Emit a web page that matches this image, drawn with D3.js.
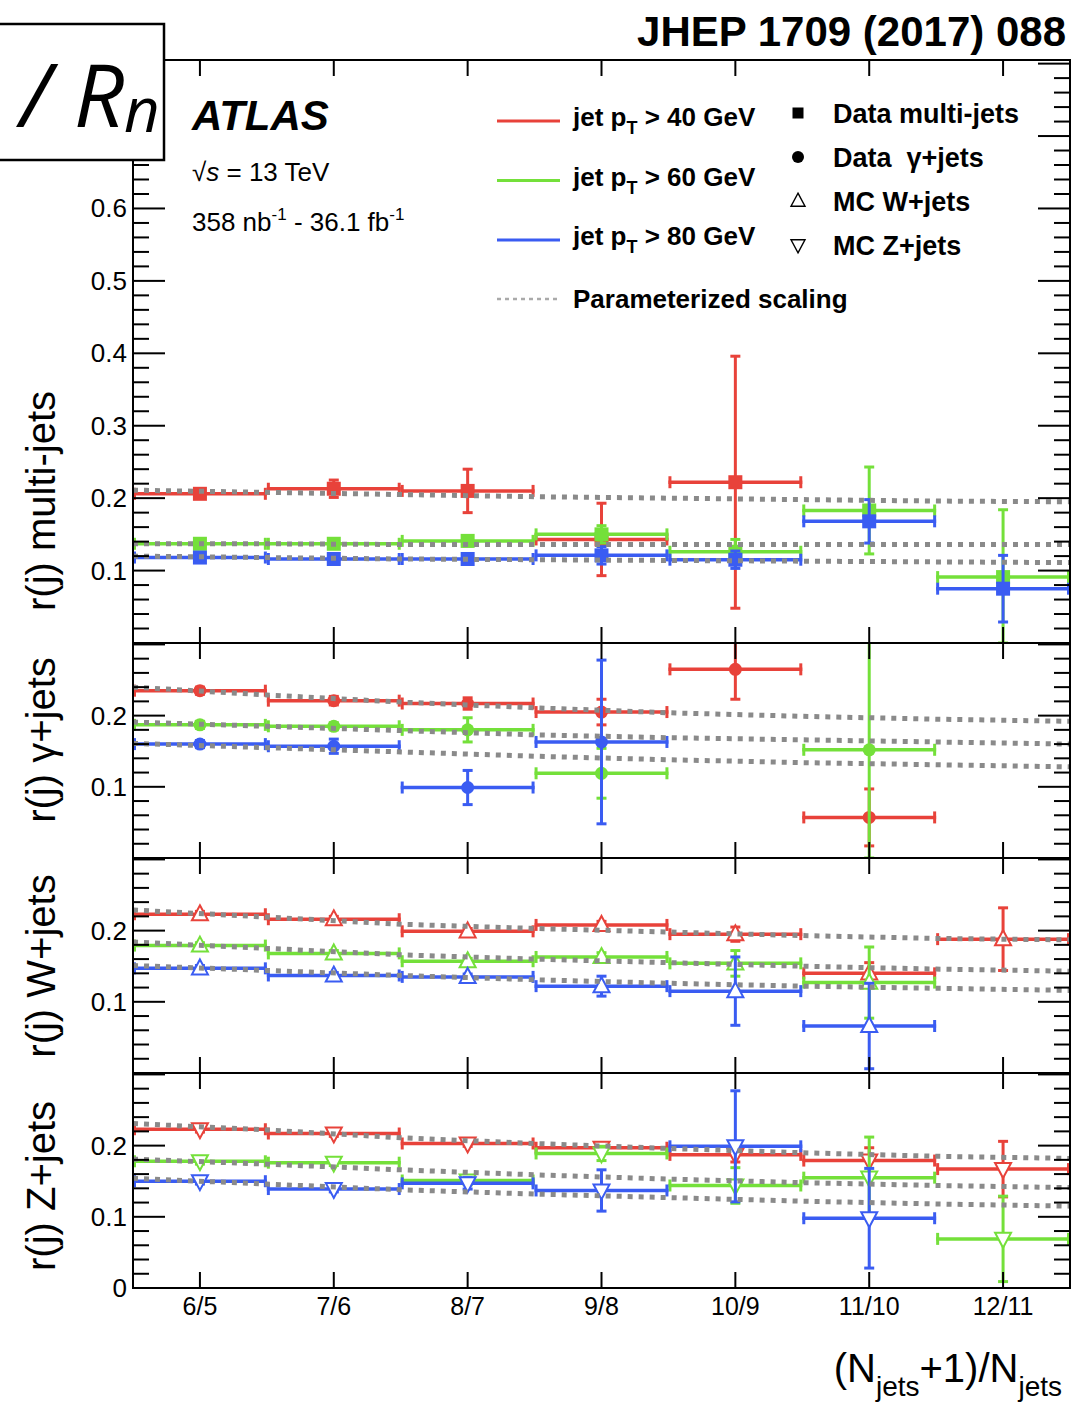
<!DOCTYPE html>
<html><head><meta charset="utf-8">
<script src="https://cdn.jsdelivr.net/npm/d3@7"></script>
<style>body{margin:0;background:#fff}svg{display:block}text{font-family:"Liberation Sans",Arial,Helvetica,sans-serif}</style>
</head><body>
<svg id="c" width="1088" height="1403"></svg>
<script>
// ---------------- data ----------------
const categories = ["6/5","7/6","8/7","9/8","10/9","11/10","12/11"];
const ptCuts = [40, 60, 80];
const markerLabels = ["Data multi-jets", "Data  \u03b3+jets", "MC W+jets", "MC Z+jets"];
const panelTitles = ["r(j) multi-jets", "r(j) \u03b3+jets", "r(j) W+jets", "r(j) Z+jets"];
const scaleEdges = [-0.5, 0.5, 1.5, 2.5, 3.5, 4.5, 5.5, 6.5];

// multi-jets
const mj40 = [0.206, 0.213, 0.210, 0.143, 0.222, null, null];
const mj40Err = [0.005, 0.012, 0.030, 0.050, 0.174, null, null];
const mj60 = [0.137, 0.137, 0.141, 0.150, 0.126, 0.183, 0.091];
const mj60Err = [0.004, 0.004, 0.007, 0.012, 0.017, 0.060, 0.093];
const mj80 = [0.118, 0.116, 0.116, 0.121, 0.115, 0.168, 0.075];
const mj80Err = [0.004, 0.005, 0.006, 0.012, 0.012, 0.030, 0.046];
const mjScale40 = [0.211, 0.208, 0.205, 0.202, 0.200, 0.198, 0.196, 0.195];
const mjScale60 = [0.137, 0.137, 0.136, 0.136, 0.136, 0.136, 0.136, 0.136];
const mjScale80 = [0.120, 0.118, 0.116, 0.115, 0.114, 0.113, 0.112, 0.111];

// gamma+jets
const gj40 = [0.235, 0.221, 0.217, 0.205, 0.265, 0.057, null];
const gj40Err = [0.005, 0.006, 0.008, 0.018, 0.042, 0.040, null];
const gj60 = [0.187, 0.185, 0.180, 0.119, null, 0.152, null];
const gj60Err = [0.005, 0.005, 0.017, 0.035, null, 0.155, null];
const gj80 = [0.160, 0.157, 0.099, 0.163, null, null, null];
const gj80Err = [0.005, 0.010, 0.024, 0.115, null, null, null];
const gjScale40 = [0.240, 0.229, 0.219, 0.211, 0.204, 0.199, 0.195, 0.192];
const gjScale60 = [0.191, 0.185, 0.179, 0.173, 0.169, 0.166, 0.163, 0.160];
const gjScale80 = [0.161, 0.155, 0.149, 0.143, 0.138, 0.134, 0.131, 0.128];

// W+jets
const wj40 = [0.223, 0.216, 0.199, 0.208, 0.195, 0.140, 0.188];
const wj40Err = [0.004, 0.004, 0.004, 0.005, 0.010, 0.015, 0.044];
const wj60 = [0.179, 0.168, 0.157, 0.163, 0.154, 0.127, null];
const wj60Err = [0.004, 0.004, 0.004, 0.006, 0.018, 0.050, null];
const wj80 = [0.147, 0.137, 0.135, 0.122, 0.115, 0.066, null];
const wj80Err = [0.004, 0.004, 0.004, 0.014, 0.048, 0.060, null];
const wjScale40 = [0.229, 0.219, 0.209, 0.203, 0.198, 0.193, 0.189, 0.187];
const wjScale60 = [0.184, 0.175, 0.166, 0.160, 0.155, 0.150, 0.146, 0.143];
const wjScale80 = [0.151, 0.144, 0.137, 0.131, 0.126, 0.122, 0.119, 0.116];

// Z+jets
const zj40 = [0.223, 0.217, 0.203, 0.197, 0.187, 0.179, 0.167];
const zj40Err = [0.004, 0.004, 0.004, 0.006, 0.010, 0.018, 0.039];
const zj60 = [0.178, 0.176, 0.151, 0.189, 0.144, 0.155, 0.069];
const zj60Err = [0.004, 0.004, 0.006, 0.010, 0.025, 0.057, 0.060];
const zj80 = [0.150, 0.139, 0.147, 0.137, 0.199, 0.098, null];
const zj80Err = [0.004, 0.004, 0.008, 0.029, 0.078, 0.070, null];
const zjScale40 = [0.231, 0.222, 0.211, 0.203, 0.196, 0.190, 0.185, 0.182];
const zjScale60 = [0.181, 0.174, 0.166, 0.159, 0.153, 0.148, 0.144, 0.141];
const zjScale80 = [0.154, 0.146, 0.138, 0.132, 0.127, 0.122, 0.118, 0.115];

const yLabels1 = [0.1, 0.2, 0.3, 0.4, 0.5, 0.6];
const yLabels2 = [0.1, 0.2];
const yLabels3 = [0.1, 0.2];
const yLabels4 = [0, 0.1, 0.2];

// ---------------- drawing ----------------
const colors = ["#e8423a", "#74e03a", "#3a5cf2"];
const svg = d3.select("#c");
const X0 = 133, X1 = 1070;
const x = d3.scaleLinear().domain([-0.5, 6.5]).range([X0, X1]);

const panels = [
  {top: 60, bottom: 643, ymax: 0.805, marker: "square", labels: yLabels1, titleY: 501,
   vals: [mj40, mj60, mj80], errs: [mj40Err, mj60Err, mj80Err], scales: [mjScale40, mjScale60, mjScale80]},
  {top: 643, bottom: 858, ymax: 0.302, marker: "circle", labels: yLabels2, titleY: 740,
   vals: [gj40, gj60, gj80], errs: [gj40Err, gj60Err, gj80Err], scales: [gjScale40, gjScale60, gjScale80]},
  {top: 858, bottom: 1073, ymax: 0.302, marker: "tri-up", labels: yLabels3, titleY: 966,
   vals: [wj40, wj60, wj80], errs: [wj40Err, wj60Err, wj80Err], scales: [wjScale40, wjScale60, wjScale80]},
  {top: 1073, bottom: 1288, ymax: 0.302, marker: "tri-down", labels: yLabels4, titleY: 1186,
   vals: [zj40, zj60, zj80], errs: [zj40Err, zj60Err, zj80Err], scales: [zjScale40, zjScale60, zjScale80]}
];

function markerPath(type, s) {
  const h = s * 0.9;
  if (type === "tri-up") return `M0,${-h*0.62}L${s/2},${h*0.42}L${-s/2},${h*0.42}Z`;
  if (type === "tri-down") return `M0,${h*0.62}L${s/2},${-h*0.42}L${-s/2},${-h*0.42}Z`;
  return "";
}
function drawMarker(g, type, cx, cy, color, size, sw) {
  if (type === "square") {
    g.append("rect").attr("x", cx - size/2).attr("y", cy - size/2).attr("width", size).attr("height", size).attr("fill", color);
  } else if (type === "circle") {
    g.append("circle").attr("cx", cx).attr("cy", cy).attr("r", size/2).attr("fill", color);
  } else {
    g.append("path").attr("d", markerPath(type, size)).attr("transform", `translate(${cx},${cy})`)
      .attr("fill", "#fff").attr("stroke", color).attr("stroke-width", sw);
  }
}

panels.forEach((p, pi) => {
  const y = d3.scaleLinear().domain([0, p.ymax]).range([p.bottom, p.top]);
  const clipId = "clip" + pi;
  svg.append("clipPath").attr("id", clipId).append("rect")
    .attr("x", X0).attr("y", p.top).attr("width", X1 - X0).attr("height", p.bottom - p.top);
  const g = svg.append("g").attr("clip-path", `url(#${clipId})`);

  // data
  p.vals.forEach((vals, si) => {
    const col = colors[si];
    const errs = p.errs[si];
    const gs = g.append("g");
    vals.forEach((v, i) => {
      if (v === null) return;
      const e = errs[i];
      const xl = x(i - 0.5), xr = x(i + 0.5), xc = x(i), yc = y(v);
      gs.append("line").attr("x1", xl).attr("x2", xr).attr("y1", yc).attr("y2", yc)
        .attr("stroke", col).attr("stroke-width", 3.5);
      [xl + 1.5, xr - 1.5].forEach(xx => gs.append("line").attr("x1", xx).attr("x2", xx)
        .attr("y1", yc - 6).attr("y2", yc + 6).attr("stroke", col).attr("stroke-width", 3));
      const yt = y(v + e), yb = y(Math.max(0, v - e));
      gs.append("line").attr("x1", xc).attr("x2", xc).attr("y1", yt).attr("y2", yb)
        .attr("stroke", col).attr("stroke-width", 3);
      [yt, yb].forEach(yy => gs.append("line").attr("x1", xc - 5).attr("x2", xc + 5)
        .attr("y1", yy).attr("y2", yy).attr("stroke", col).attr("stroke-width", 3));
      drawMarker(gs, p.marker, xc, yc, col, p.marker === "circle" ? 13 : (p.marker === "square" ? 14 : 16), 2);
    });
  });

  // parameterized scaling
  p.scales.forEach(sc => {
    const line = d3.line().x((d, i) => x(scaleEdges[i])).y(d => y(d));
    g.append("path").attr("d", line(sc)).attr("fill", "none")
      .attr("stroke", "#8a8a8a").attr("stroke-width", 5).attr("stroke-dasharray", "5,6");
  });

  // frame
  svg.append("rect").attr("x", X0).attr("y", p.top).attr("width", X1 - X0).attr("height", p.bottom - p.top)
    .attr("fill", "none").attr("stroke", "#000").attr("stroke-width", 2);

  // y ticks
  const majors = d3.range(0, p.ymax + 1e-9, 0.1).map(d => +d.toFixed(2));
  const minors = d3.range(0, p.ymax + 1e-9, 0.02).map(d => +d.toFixed(2)).filter(d => Math.abs(Math.round(d * 10) - d * 10) > 1e-6);
  const tg = svg.append("g").attr("stroke", "#000");
  majors.forEach(v => {
    const yy = y(v);
    if (yy < p.top + 1 || yy > p.bottom - 1) return;
    tg.append("line").attr("x1", X0).attr("x2", X0 + 32).attr("y1", yy).attr("y2", yy).attr("stroke-width", 2);
    tg.append("line").attr("x1", X1).attr("x2", X1 - 32).attr("y1", yy).attr("y2", yy).attr("stroke-width", 2);
  });
  minors.forEach(v => {
    const yy = y(v);
    if (yy < p.top + 1 || yy > p.bottom - 1) return;
    tg.append("line").attr("x1", X0).attr("x2", X0 + 16).attr("y1", yy).attr("y2", yy).attr("stroke-width", 2);
    tg.append("line").attr("x1", X1).attr("x2", X1 - 16).attr("y1", yy).attr("y2", yy).attr("stroke-width", 2);
  });
  // x ticks
  categories.forEach((c, i) => {
    tg.append("line").attr("x1", x(i)).attr("x2", x(i)).attr("y1", p.top).attr("y2", p.top + 16).attr("stroke-width", 2);
    tg.append("line").attr("x1", x(i)).attr("x2", x(i)).attr("y1", p.bottom).attr("y2", p.bottom - 16).attr("stroke-width", 2);
  });
  // y labels
  p.labels.forEach(v => {
    svg.append("text").attr("x", 127).attr("y", y(v) + 9).attr("text-anchor", "end")
      .attr("font-size", 26).text(v === 0 ? "0" : v.toFixed(1));
  });
  // y title
  svg.append("text").attr("transform", `translate(55,${p.titleY}) rotate(-90)`)
    .attr("text-anchor", "middle").attr("font-size", 40).text(panelTitles[pi]);
});

// x labels
categories.forEach((c, i) => {
  svg.append("text").attr("x", x(i)).attr("y", 1315).attr("text-anchor", "middle").attr("font-size", 25).text(c);
});
// x title
const xt = svg.append("text").attr("x", 1062).attr("y", 1382).attr("text-anchor", "end").attr("font-size", 40);
xt.append("tspan").text("(N");
xt.append("tspan").attr("font-size", 28).attr("dy", 14).text("jets");
xt.append("tspan").attr("dy", -14).text("+1)/N");
xt.append("tspan").attr("font-size", 28).attr("dy", 14).text("jets");

// header
svg.append("text").attr("x", 1066).attr("y", 46).attr("text-anchor", "end")
  .attr("font-size", 42).attr("font-weight", "bold").text("JHEP 1709 (2017) 088");

// ATLAS block
svg.append("text").attr("x", 192).attr("y", 130).attr("font-size", 42).attr("font-weight", "bold")
  .attr("font-style", "italic").text("ATLAS");
const s1 = svg.append("text").attr("x", 192).attr("y", 181).attr("font-size", 26);
s1.append("tspan").text("\u221a");
s1.append("tspan").attr("font-style", "italic").text("s");
s1.append("tspan").text(" = 13 TeV");
const s2 = svg.append("text").attr("x", 192).attr("y", 231).attr("font-size", 26);
s2.append("tspan").text("358 nb");
s2.append("tspan").attr("font-size", 17).attr("dy", -11).text("-1");
s2.append("tspan").attr("dy", 11).text(" - 36.1 fb");
s2.append("tspan").attr("font-size", 17).attr("dy", -11).text("-1");

// legend: pT lines
ptCuts.forEach((pt, i) => {
  const yy = 121 + 59.5 * i;
  svg.append("line").attr("x1", 497).attr("x2", 560).attr("y1", yy).attr("y2", yy)
    .attr("stroke", colors[i]).attr("stroke-width", 3);
  const t = svg.append("text").attr("x", 573).attr("y", yy + 5).attr("font-size", 26).attr("font-weight", "bold");
  t.append("tspan").text("jet p");
  t.append("tspan").attr("font-size", 18).attr("dy", 8).text("T");
  t.append("tspan").attr("dy", -8).text(` > ${pt} GeV`);
});
svg.append("line").attr("x1", 497).attr("x2", 560).attr("y1", 299).attr("y2", 299)
  .attr("stroke", "#aaa").attr("stroke-width", 2.5).attr("stroke-dasharray", "4,4");
svg.append("text").attr("x", 573).attr("y", 308).attr("font-size", 26).attr("font-weight", "bold").text("Parameterized scaling");

// legend: markers
const legMarkers = ["square", "circle", "tri-up", "tri-down"];
markerLabels.forEach((lab, i) => {
  const yy = 113 + 44 * i;
  const g = svg.append("g");
  drawMarker(g, legMarkers[i], 798, yy, "#000", legMarkers[i] === "circle" ? 12 : (legMarkers[i] === "square" ? 11 : 14), 1.4);
  svg.append("text").attr("x", 833).attr("y", yy + 10).attr("font-size", 27).attr("font-weight", "bold")
    .attr("xml:space", "preserve").style("white-space", "pre").text(lab);
});

// Rn box
svg.append("rect").attr("x", -2).attr("y", 24).attr("width", 166).attr("height", 136)
  .attr("fill", "#fff").attr("stroke", "#000").attr("stroke-width", 2.5);
const rn = svg.append("text").attr("x", 20).attr("y", 127).attr("font-size", 88)
  .attr("font-style", "italic").style("font-family", "'Open Sans','Liberation Sans',sans-serif");
rn.append("tspan").text("/ R");
rn.append("tspan").attr("font-size", 62).attr("dy", 5).text("n");
</script>
</body></html>
